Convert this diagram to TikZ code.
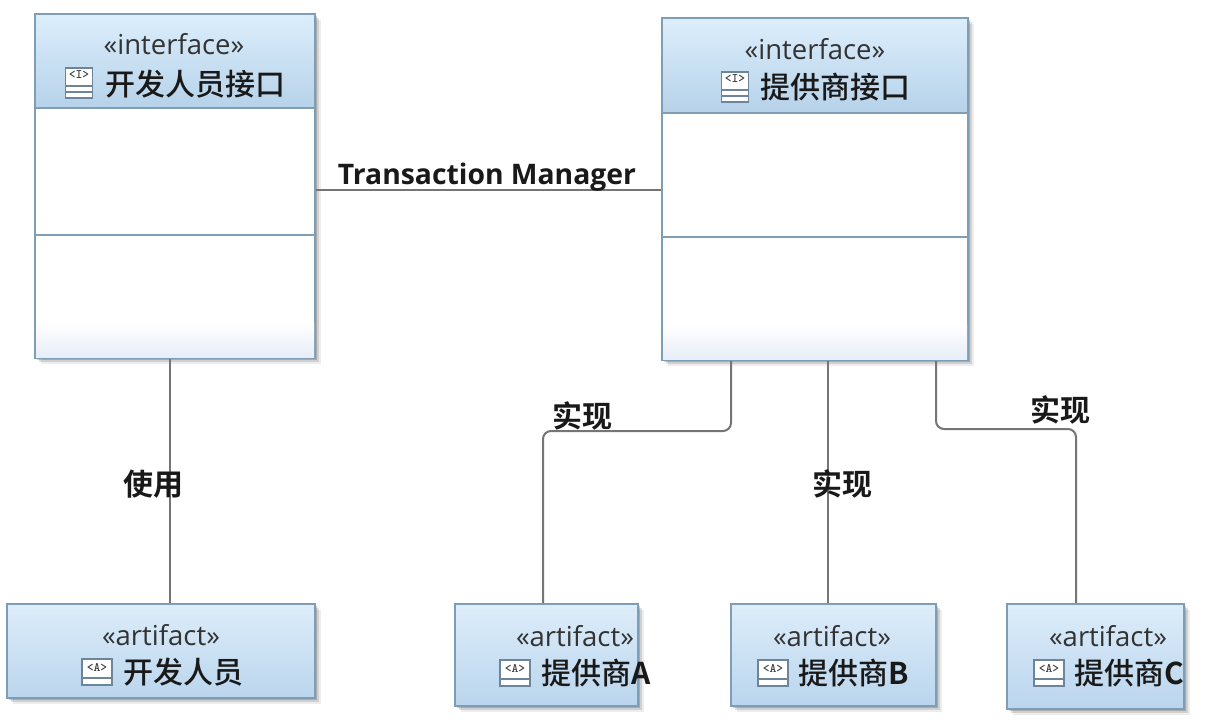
\documentclass[tikz,border=0pt]{standalone}
\usepackage{fontspec}
\setmainfont{Open Sans}
\newfontfamily\cjk{Noto Sans CJK SC Medium}
\newfontfamily\cjkb{Noto Sans CJK SC Bold}
\usetikzlibrary{shadows,calc}
\definecolor{edgeblue}{HTML}{7F9DB5}
\definecolor{linegray}{HTML}{757575}
\definecolor{headtop}{HTML}{DCEEFC}
\definecolor{headbot}{HTML}{B6D2E9}
\definecolor{arttop}{HTML}{DDEDFA}
\definecolor{artbot}{HTML}{BAD5ED}
\definecolor{fadeblue}{HTML}{E6EEF7}
\tikzset{
  x=1pt,y=-1pt,
  softshadow/.style={
    general shadow={shadow xshift=6pt,shadow yshift=-6pt,fill=black,opacity=.07},
    general shadow={shadow xshift=4pt,shadow yshift=-4pt,fill=black,opacity=.12},
    general shadow={shadow xshift=2pt,shadow yshift=-2pt,fill=black,opacity=.18}},
  umlbody/.style={draw=edgeblue,line width=2pt,fill=white,rectangle,inner sep=0pt,softshadow},
  umlhead/.style={draw=edgeblue,line width=2pt,rectangle,inner sep=0pt,top color=headtop,bottom color=headbot},
  umlart/.style={draw=edgeblue,line width=2pt,rectangle,inner sep=0pt,top color=arttop,bottom color=artbot,softshadow},
  stereo/.style={font=\fontsize{27.5}{27.5}\selectfont,text=black!80,inner sep=0pt,anchor=center},
  titletext/.style={font=\cjk\fontsize{30}{30}\selectfont,text=black!90,inner sep=0pt,anchor=west},
  arttext/.style={font=\cjk\fontsize{30}{30}\selectfont,text=black!90,inner sep=0pt,anchor=west},
  linklabel/.style={font=\cjkb\fontsize{30}{30}\selectfont,text=black!90,inner sep=0pt},
  conn/.style={draw=linegray,line width=2pt,rounded corners=8pt},
  divider/.style={draw=edgeblue,line width=1.6pt},
  iconbox/.style={draw=edgeblue!85!black,line width=1.5pt,fill=white,rectangle,inner sep=0pt},
  icontext/.style={font=\ttfamily\bfseries\fontsize{13}{13}\selectfont,text=black!75,inner sep=0pt},
  iconline/.style={draw=edgeblue!85!black,line width=1.5pt},
  fadestrip/.style={top color=white,bottom color=fadeblue}
}
\begin{document}
\begin{tikzpicture}
\useasboundingbox (0,0) rectangle (1224,722);
\fill[white] (0,0) rectangle (1224,722);

% developer interface
\node[umlbody,minimum width=280pt,minimum height=344pt] (ifA) at (175,186) {};
\fill[fadestrip] ([shift={(2pt,36pt)}]ifA.south west) rectangle ([shift={(-2pt,2pt)}]ifA.south east);
\node[umlhead,minimum width=280pt,minimum height=94pt] (headA) at (175,61) {};
\draw[divider] (ifA.west |- 0,235) -- (ifA.east |- 0,235);
\node[stereo] (stA) at (174,44) {«interface»};
\node[titletext] (tA) at (105,84) {开发人员接口};
\node[iconbox,minimum width=27pt,minimum height=30pt] (icA) at (79,83) {};
\node[icontext] (icAt) at (79,75) {<I>};
\draw[iconline] ([yshift=-9pt]icA.west) -- ([yshift=-9pt]icA.east);
\draw[iconline] ([yshift=-3pt]icA.west) -- ([yshift=-3pt]icA.east);

% provider interface
\node[umlbody,minimum width=306pt,minimum height=342pt] (ifB) at (815,189) {};
\fill[fadestrip] ([shift={(2pt,36pt)}]ifB.south west) rectangle ([shift={(-2pt,2pt)}]ifB.south east);
\node[umlhead,minimum width=306pt,minimum height=95pt] (headB) at (815,65.5) {};
\draw[divider] (ifB.west |- 0,237) -- (ifB.east |- 0,237);
\node[stereo] (stB) at (815,49) {«interface»};
\node[titletext] (tB) at (760,87) {提供商接口};
\node[iconbox,minimum width=27pt,minimum height=30pt] (icB) at (735,87) {};
\node[icontext] (icBt) at (735,79) {<I>};
\draw[iconline] ([yshift=-9pt]icB.west) -- ([yshift=-9pt]icB.east);
\draw[iconline] ([yshift=-3pt]icB.west) -- ([yshift=-3pt]icB.east);

% artifacts
\node[umlart,minimum width=308pt,minimum height=94pt] (artD) at (161,651) {};
\node[stereo] (stD) at (161,635) {«artifact»};
\node[arttext] (tD) at (123,672) {开发人员};
\node[iconbox,minimum width=30pt,minimum height=26pt] (icD) at (97,672) {};
\node[icontext] (icDt) at (97,667) {<A>};
\draw[iconline] ([yshift=-6pt]icD.west) -- ([yshift=-6pt]icD.east);

\node[umlart,minimum width=183pt,minimum height=102pt] (artA) at (546.5,655) {};
\node[stereo] (stAa) at (575,636) {«artifact»};
\node[arttext] (tAa) at (541,673) {提供商{\cjkb A}};
\node[iconbox,minimum width=30pt,minimum height=26pt] (icAa) at (515,673) {};
\node[icontext] (icAat) at (515,668) {<A>};
\draw[iconline] ([yshift=-6pt]icAa.west) -- ([yshift=-6pt]icAa.east);

\node[umlart,minimum width=205pt,minimum height=102pt] (artB) at (833.5,655) {};
\node[stereo] (stBb) at (832,636) {«artifact»};
\node[arttext] (tBb) at (798,673) {提供商{\cjkb B}};
\node[iconbox,minimum width=30pt,minimum height=26pt] (icBb) at (773,673) {};
\node[icontext] (icBbt) at (773,668) {<A>};
\draw[iconline] ([yshift=-6pt]icBb.west) -- ([yshift=-6pt]icBb.east);

\node[umlart,minimum width=177pt,minimum height=105pt] (artC) at (1095.5,656.5) {};
\node[stereo] (stCc) at (1108,636) {«artifact»};
\node[arttext] (tCc) at (1074,673) {提供商{\cjkb C}};
\node[iconbox,minimum width=30pt,minimum height=26pt] (icCc) at (1049,673) {};
\node[icontext] (icCct) at (1049,668) {<A>};
\draw[iconline] ([yshift=-6pt]icCc.west) -- ([yshift=-6pt]icCc.east);

% connectors
\draw[conn] (ifA.east |- 0,190) -- (ifB.west |- 0,190);
\draw[conn] ([xshift=-5pt]ifA.south) -- ([xshift=9pt]artD.north);
\draw[conn] ([xshift=-84pt]ifB.south) -- ++(0,70) -| ([xshift=-3.5pt]artA.north);
\draw[conn] ([xshift=13pt]ifB.south) -- ([xshift=-5.5pt]artB.north);
\draw[conn] ([xshift=121pt]ifB.south) -- ++(0,68) -| ([xshift=-19.5pt]artC.north);

% labels
\node[font=\bfseries\fontsize{28.3}{28.3}\selectfont,text=black!90,inner sep=0pt] (lTM) at (487,177) {Transaction Manager};
\node[linklabel] (lUse) at (153,484) {使用};
\node[linklabel] (lR1) at (582,416) {实现};
\node[linklabel] (lR2) at (842,484) {实现};
\node[linklabel] (lR3) at (1060,410) {实现};
\end{tikzpicture}
\end{document}
